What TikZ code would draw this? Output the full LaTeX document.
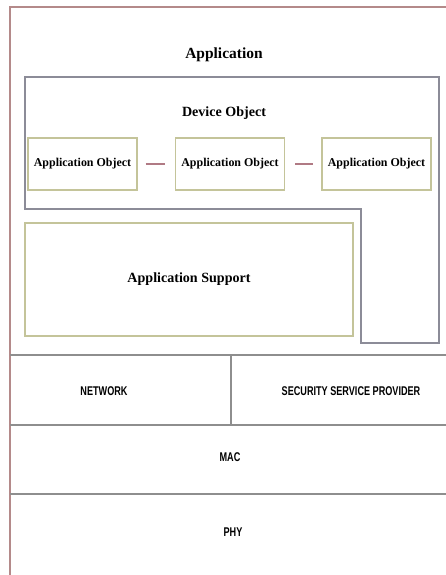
\documentclass[tikz,border=0pt]{standalone}
\usepackage{xcolor}
\usepackage{tikz}
\usepackage{fontspec}
\setmainfont{Liberation Serif}
\setsansfont{Liberation Sans}
\definecolor{framecolor}{HTML}{B48A8A}
\definecolor{devicecolor}{HTML}{8C8C98}
\definecolor{objectcolor}{HTML}{C4C49A}
\definecolor{layercolor}{HTML}{8E8E8E}
\definecolor{linkcolor}{HTML}{B07A84}
\newcommand{\narrow}[1]{\scalebox{0.72}[1]{#1}}

\begin{document}
\begin{tikzpicture}[x=0.025cm, y=-0.025cm,
    appobj/.style={draw=objectcolor, line width=1pt, minimum width=2.725cm,
        minimum height=1.3cm, inner sep=1pt, font=\bfseries\fontsize{8.5}{10}\selectfont},
    layer/.style={layercolor, line width=1.4pt},
    layerlabel/.style={font=\sffamily\bfseries\small}]

    \useasboundingbox (0,0) rectangle (446,575);

    % Outer frame
    \draw[framecolor, line width=1pt] (10,575) -- (10,7) -- (446,7);
    \node[font=\bfseries\fontsize{11}{13}\selectfont] (app) at (224,55) {Application};

    % Device object
    \draw[devicecolor, line width=1pt] (25,77) -- (439,77) -- (439,343)
        -- (361,343) -- (361,209) -- (25,209) -- cycle;
    \node[font=\bfseries] (dev) at (224,113) {Device Object};

    % Application objects
    \node[appobj] (ao1) at (82.5,164) {Application Object};
    \node[appobj] (ao2) at (230,164) {Application Object};
    \node[appobj] (ao3) at (376.5,164) {Application Object};
    \draw[linkcolor, line width=1.5pt, shorten <=0.2cm, shorten >=0.25cm] (ao1) -- (ao2);
    \draw[linkcolor, line width=1.5pt, shorten <=0.25cm, shorten >=0.2cm] (ao2) -- (ao3);

    % Application support
    \node[draw=objectcolor, line width=1pt, minimum width=8.2cm,
        minimum height=2.825cm, font=\bfseries] (aps) at (189,279.5) {Application Support};

    % Layers
    \draw[layer] (10,355) -- (446,355);
    \draw[layer] (10,425) -- (446,425);
    \draw[layer] (10,494) -- (446,494);
    \draw[layer] (231,355) -- (231,425);
    \node[layerlabel] (nwk) at (104,391) {\narrow{NETWORK}};
    \node[layerlabel] (ssp) at (351,391) {\narrow{SECURITY SERVICE PROVIDER}};
    \node[layerlabel] (mac) at (230,457) {\narrow{MAC}};
    \node[layerlabel] (phy) at (233,532) {\narrow{PHY}};

\end{tikzpicture}
\end{document}
